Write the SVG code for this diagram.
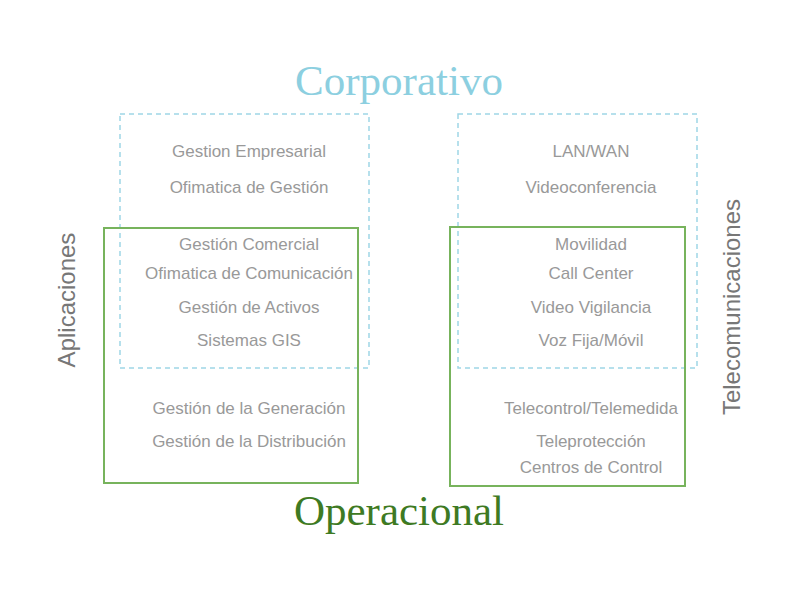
<svg xmlns="http://www.w3.org/2000/svg" width="800" height="600" viewBox="0 0 800 600">
<style>
.t{font-family:"Liberation Sans",Arial,sans-serif;font-size:17px;fill:#999;text-anchor:middle}
.side{font-family:"Liberation Sans",Arial,sans-serif;font-size:24px;fill:#777;text-anchor:middle}
.corp{fill:none;stroke:#9fd6e6;stroke-width:1.5;stroke-dasharray:5 4}
.oper{fill:none;stroke:#77b35c;stroke-width:2}
.title{font-family:"Liberation Serif","Times New Roman",serif;text-anchor:middle;font-size:43px}
</style>
<rect width="800" height="600" fill="#fff"/>
<g id="frames">
<rect id="corp-apps" class="corp" x="120" y="114" width="249" height="254"/>
<rect id="corp-tel" class="corp" x="458" y="114" width="239" height="254"/>
<rect id="oper-apps" class="oper" x="104" y="228" width="254" height="255"/>
<rect id="oper-tel" class="oper" x="450" y="227" width="235" height="259"/>
</g>
<g id="titles">
<text class="title" x="399" y="95" fill="#8ccfe0">Corporativo</text>
<text class="title" x="399" y="525" fill="#3e7a23">Operacional</text>
<text class="side" transform="translate(75,300) rotate(-90)">Aplicaciones</text>
<text class="side" transform="translate(740,307) rotate(-90)">Telecomunicaciones</text>
</g>
<g id="apps">
<text class="t" x="249" y="157">Gestion Empresarial</text>
<text class="t" x="249" y="193">Ofimatica de Gestión</text>
<text class="t" x="249" y="250">Gestión Comercial</text>
<text class="t" x="249" y="279">Ofimatica de Comunicación</text>
<text class="t" x="249" y="313">Gestión de Activos</text>
<text class="t" x="249" y="346">Sistemas GIS</text>
<text class="t" x="249" y="414">Gestión de la Generación</text>
<text class="t" x="249" y="447">Gestión de la Distribución</text>
</g>
<g id="tel">
<text class="t" x="591" y="157">LAN/WAN</text>
<text class="t" x="591" y="193">Videoconferencia</text>
<text class="t" x="591" y="250">Movilidad</text>
<text class="t" x="591" y="279">Call Center</text>
<text class="t" x="591" y="313">Video Vigilancia</text>
<text class="t" x="591" y="346">Voz Fija/Móvil</text>
<text class="t" x="591" y="414">Telecontrol/Telemedida</text>
<text class="t" x="591" y="447">Teleprotección</text>
<text class="t" x="591" y="473">Centros de Control</text>
</g>
</svg>
